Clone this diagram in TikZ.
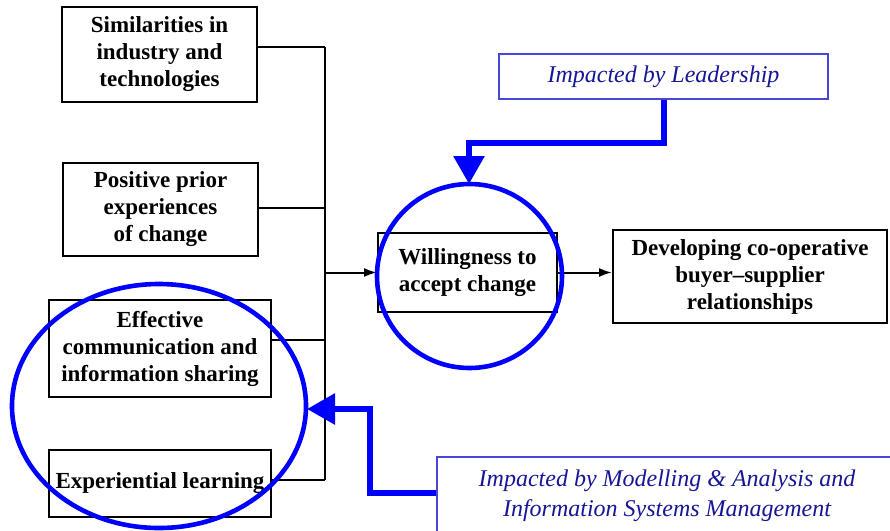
\documentclass[tikz,border=0pt]{standalone}
\usepackage{fontspec}
\setmainfont{Liberation Serif}
\usetikzlibrary{arrows.meta,shapes.geometric}
\definecolor{txtblue}{RGB}{22,22,150}
\definecolor{boxblue}{RGB}{70,70,215}
\definecolor{pureblue}{RGB}{0,0,255}
\begin{document}
\begin{tikzpicture}[x=1pt,y=-1pt,
  box/.style={draw=black, line width=2pt, align=center, inner sep=0pt,
    font=\fontsize{23}{27}\selectfont\bfseries},
  impbox/.style={draw=boxblue, line width=1.1pt, align=center, inner sep=0pt,
    text=txtblue, font=\fontsize{24}{30}\selectfont\itshape},
  conn/.style={draw=black, line width=2pt},
  blackarrow/.style={conn, -{Latex[length=13pt,width=9pt]}},
  bluearrow/.style={draw=pureblue, line width=6pt,
    -{Triangle[length=28pt,width=30pt]}},
  ring/.style={draw=pureblue, line width=4.6pt, ellipse, inner sep=0pt}
]
\clip (0,0) rectangle (890,530);
\fill[white] (0,0) rectangle (890,530);

% black boxes
\node[box, minimum width=195pt, minimum height=95pt] (s1) at (159.5,54.5)
  {Similarities in\\industry and\\technologies};
\node[box, minimum width=195pt, minimum height=93pt] (s2) at (160.5,209.5)
  {Positive prior\\experiences\\of change};
\node[box, minimum width=222pt, minimum height=97pt] (s3) at (160,348.5)
  {Effective\\communication and\\information sharing};
\node[box, minimum width=222pt, minimum height=67pt] (s4) at (160,483.5)
  {Experiential learning};
\node[box, minimum width=179pt, minimum height=79pt] (will) at (467.5,272.5)
  {Willingness to\\accept change};
\node[box, minimum width=274pt, minimum height=93pt] (dev) at (750,276.5)
  {Developing co-operative\\buyer--supplier\\relationships};

% bus connectors
\coordinate (b1) at (325,47);
\coordinate (b2) at (325,208);
\coordinate (b3) at (325,340);
\coordinate (b4) at (325,480);
\coordinate (bm) at (325,272.5);
\draw[conn] (s1.east |- b1) -- (b1);
\draw[conn] (s2.east |- b2) -- (b2);
\draw[conn] (s3.east |- b3) -- (b3);
\draw[conn] (s4.east |- b4) -- (b4);
\draw[conn] (b1) -- (b4);
\draw[blackarrow] (bm) -- (will.west);
\draw[blackarrow] (will.east) -- (will.east -| dev.west);

% blue annotation boxes
\node[impbox, minimum width=329pt, minimum height=45pt] (lead) at (663.5,76.5)
  {Impacted by Leadership};
\node[impbox, minimum width=460pt, minimum height=78pt] (mod) at (667,496)
  {Impacted by Modelling \& Analysis and\\Information Systems Management};

% blue rings
\node[ring, minimum width=185pt, minimum height=184pt] (wring) at (469.5,276) {};
\node[ring, minimum width=294pt, minimum height=244pt] (lring) at (159,406) {};

% blue arrows
\coordinate (lbend) at (469,143);
\coordinate (ltip) at (469,184);
\draw[bluearrow] (lead.south) |- (lbend) -- (ltip);
\coordinate (mbend) at (370,409);
\coordinate (mtip) at (307,409);
\draw[bluearrow] (mod.west |- 0,493) -| (mbend) -- (mtip);
\end{tikzpicture}
\end{document}
